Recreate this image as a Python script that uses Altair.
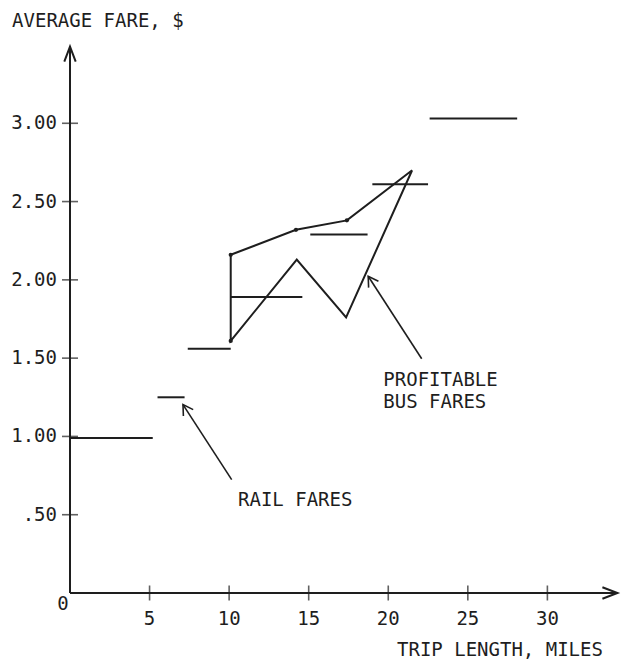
import altair as alt
import pandas as pd

# Rail fares: horizontal steps (trip length range, average fare)
rail_start = [0.0, 5.5, 7.4, 10.1, 15.1, 19.0, 22.6]
rail_end = [5.2, 7.2, 10.1, 14.6, 18.7, 22.5, 28.1]
rail_fare = [0.99, 1.25, 1.56, 1.89, 2.29, 2.61, 3.03]

# Profitable bus fares: closed outline (upper then lower branch)
bus_x = [21.5, 17.4, 14.2, 10.1, 10.1, 14.25, 17.35, 21.5]
bus_fare = [2.70, 2.38, 2.32, 2.16, 1.61, 2.13, 1.76, 2.70]
bus_dot_x = [17.4, 14.2, 10.1, 10.1]
bus_dot_fare = [2.38, 2.32, 2.16, 1.61]

# Axis ticks
x_ticks = [5, 10, 15, 20, 25, 30]
x_tick_labels = ["5", "10", "15", "20", "25", "30"]
y_ticks = [0.5, 1.0, 1.5, 2.0, 2.5, 3.0]
y_tick_labels = [".50", "1.00", "1.50", "2.00", "2.50", "3.00"]

# Annotations
ann_text = ["RAIL FARES", "PROFITABLE", "BUS FARES"]
ann_x = [10.56, 19.69, 19.69]
ann_y = [0.596, 1.362, 1.22]
arrow_tail_x = [10.16, 22.10]
arrow_tail_y = [0.724, 1.496]
arrow_tip_x = [7.10, 18.74]
arrow_tip_y = [1.203, 2.023]

X_MAX = 34.4
Y_MAX = 3.49
INK = "#1e1e1e"
FONT = "DejaVu Sans Mono"
FS = 19

xs = alt.Scale(domain=[0, 34.5], nice=False, zero=False)
ys = alt.Scale(domain=[0, 3.5], nice=False, zero=False)


def X(f="x"):
    return alt.X(f, type="quantitative", scale=xs, axis=None)


def Y(f="y"):
    return alt.Y(f, type="quantitative", scale=ys, axis=None)


rail_df = pd.DataFrame({"x": rail_start, "x2": rail_end, "y": rail_fare})
bus_df = pd.DataFrame({"x": bus_x, "y": bus_fare, "o": list(range(len(bus_x)))})
dots_df = pd.DataFrame({"x": bus_dot_x, "y": bus_dot_fare})
xt_df = pd.DataFrame({"x": x_ticks, "lab": x_tick_labels, "y": [0.0] * len(x_ticks)})
yt_df = pd.DataFrame({"y": y_ticks, "lab": y_tick_labels, "x": [0.0] * len(y_ticks)})
ann_df = pd.DataFrame({"x": ann_x, "y": ann_y, "t": ann_text})
arr_df = pd.DataFrame({"x": arrow_tail_x, "y": arrow_tail_y,
                       "x2": arrow_tip_x, "y2": arrow_tip_y})
axes_df = pd.DataFrame({"x": [0.0, 0.0], "y": [0.0, 0.0],
                        "x2": [X_MAX, 0.0], "y2": [0.0, Y_MAX]})
axhead_df = pd.DataFrame({"x": [X_MAX, 0.0], "y": [0.0, Y_MAX], "a": [90, 0]})
titles_df = pd.DataFrame({"x": [-3.64, 20.55], "y": [3.653, -0.362],
                          "t": ["AVERAGE FARE, $", "TRIP LENGTH, MILES"]})
zero_df = pd.DataFrame({"x": [-0.44], "y": [-0.07], "t": ["0"]})

head_shape = "M -0.6 1 L 0 0 L 0.6 1"
axis_head_shape = "M -0.38 1 L 0 0 L 0.38 1"

axes = alt.Chart(axes_df).mark_rule(color=INK, strokeWidth=2).encode(
    x=X(), y=Y(), x2="x2", y2="y2")
axheads = alt.Chart(axhead_df).mark_point(
    shape=axis_head_shape, filled=False, color=INK, strokeWidth=2, size=900, opacity=1
).encode(x=X(), y=Y(), angle=alt.Angle("a:Q", scale=None))

xticks = alt.Chart(xt_df).mark_tick(color=INK, thickness=1.6, size=15, orient="vertical").encode(
    x=X(), y=Y())
yticks = alt.Chart(yt_df).mark_tick(color=INK, thickness=1.6, size=16, orient="horizontal").encode(
    x=X(), y=Y())
xlabels = alt.Chart(xt_df).mark_text(font=FONT, fontSize=FS, color=INK, dy=26, align="center").encode(
    x=X(), y=Y(), text="lab")
ylabels = alt.Chart(yt_df).mark_text(font=FONT, fontSize=FS, color=INK, dx=-13, align="right",
                                     baseline="middle").encode(x=X(), y=Y(), text="lab")
zero = alt.Chart(zero_df).mark_text(font=FONT, fontSize=FS, color=INK, align="center",
                                    baseline="middle").encode(x=X(), y=Y(), text="t")
titles = alt.Chart(titles_df).mark_text(font=FONT, fontSize=FS, color=INK, align="left",
                                        baseline="middle").encode(x=X(), y=Y(), text="t")

rail = alt.Chart(rail_df).mark_rule(color=INK, strokeWidth=2).encode(x=X(), x2="x2", y=Y())
bus = alt.Chart(bus_df).mark_line(color=INK, strokeWidth=2).encode(
    x=X(), y=Y(), order="o:Q")
dots = alt.Chart(dots_df).mark_point(filled=True, color=INK, size=18, opacity=1).encode(x=X(), y=Y())

arrows = alt.Chart(arr_df).mark_rule(color=INK, strokeWidth=1.6).encode(
    x=X(), y=Y(), x2="x2", y2="y2")
heads = alt.Chart(arr_df).mark_point(
    shape=head_shape, filled=False, color=INK, strokeWidth=1.6, size=380, opacity=1, angle=327
).encode(x=X("x2"), y=Y("y2"))
ann = alt.Chart(ann_df).mark_text(font=FONT, fontSize=FS, color=INK, align="left",
                                  baseline="middle").encode(x=X(), y=Y(), text="t")

chart = alt.layer(
    axes, axheads, xticks, yticks, xlabels, ylabels, zero, titles,
    rail, bus, dots, arrows, heads, ann
).properties(
    width=549, height=548,
    autosize=alt.AutoSizeParams(type="none"),
    padding={"left": 62, "top": 37, "right": 2, "bottom": 66},
    background="white",
).configure_view(stroke=None)

chart.save("out.html", embed_options={"renderer": "svg", "actions": False})
